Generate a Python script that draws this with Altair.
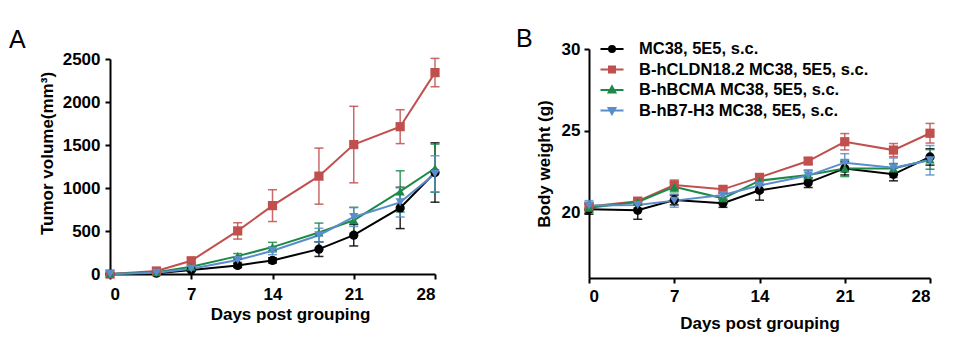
import altair as alt
import pandas as pd

days = [0, 4, 7, 11, 14, 18, 21, 25, 28]
series_names = ["MC38, 5E5, s.c.", "B-hCLDN18.2 MC38, 5E5, s.c.",
                "B-hBCMA MC38, 5E5, s.c.", "B-hB7-H3 MC38, 5E5, s.c."]
colors = ["#000000", "#C0504D", "#1B8A47", "#5B8CCB"]
shapes = ["circle", "square", "triangle-up", "triangle-down"]
legend_paths = [
    "M-1.15,0H1.15M0.3,0A0.3,0.3,0,1,1,-0.3,0A0.3,0.3,0,1,1,0.3,0Z",
    "M-1.15,0H1.15M-0.3,-0.3H0.3V0.3H-0.3Z",
    "M-1.15,0H1.15M0,-0.36L0.34,0.24H-0.34Z",
    "M-1.15,0H1.15M0,0.36L0.34,-0.24H-0.34Z",
]

# Tumor volume (mm3), mean and SEM
tumor_mean = [
    [0, 10, 46, 100, 158, 289, 451, 768, 1180],
    [0, 35, 154, 501, 795, 1138, 1505, 1713, 2342],
    [0, 20, 85, 208, 313, 482, 625, 960, 1230],
    [0, 15, 61, 162, 270, 451, 663, 833, 1165],
]
tumor_err = [
    [0, 5, 15, 25, 30, 85, 125, 240, 345],
    [0, 10, 25, 95, 185, 326, 445, 197, 165],
    [0, 5, 15, 30, 55, 110, 150, 240, 280],
    [0, 5, 15, 25, 45, 80, 110, 170, 210],
]
# Body weight (g), mean and SEM
weight_mean = [
    [20.2, 20.14, 20.77, 20.57, 21.36, 21.83, 22.70, 22.34, 23.4],
    [20.37, 20.7, 21.69, 21.42, 22.15, 23.15, 24.33, 23.82, 24.85],
    [20.3, 20.65, 21.57, 20.87, 21.95, 22.3, 22.7, 22.7, 23.25],
    [20.43, 20.47, 20.73, 21.08, 21.65, 22.26, 23.05, 22.74, 23.2],
]
weight_err = [
    [0.3, 0.55, 0.3, 0.25, 0.6, 0.3, 0.4, 0.4, 0.5],
    [0.2, 0.2, 0.3, 0.2, 0.2, 0.2, 0.5, 0.4, 0.6],
    [0.3, 0.2, 0.3, 0.3, 0.3, 0.3, 0.5, 0.3, 0.6],
    [0.3, 0.2, 0.4, 0.3, 0.4, 0.3, 0.55, 0.6, 0.9],
]


def make_df(means, errs):
    rows = []
    for name, m, e in zip(series_names, means, errs):
        for d, mv, ev in zip(days, m, e):
            rows.append({"day": d, "series": name, "mean": mv,
                         "lo": mv - ev, "hi": mv + ev})
    return pd.DataFrame(rows)


FONT = "Liberation Sans"


def panel(df, ydomain, yrange, yvalues, ytitle, width, height, letter,
          letter_x, letter_y, xaxis_extra, yaxis_extra, with_legend):
    xscale = alt.Scale(domain=[0, 28], nice=False, zero=False)
    yscale_kw = dict(domain=ydomain, nice=False, zero=False)
    if yrange is not None:
        yscale_kw["range"] = yrange
    yscale = alt.Scale(**yscale_kw)
    xaxis = alt.Axis(values=[0, 7, 14, 21, 28], title="Days post grouping",
                     format="d", **xaxis_extra)
    yaxis = alt.Axis(values=yvalues, title=ytitle, format="d", **yaxis_extra)
    X = lambda: alt.X("day:Q", scale=xscale, axis=xaxis, title="Days post grouping")
    Y = lambda f: alt.Y(f + ":Q", scale=yscale, axis=yaxis, title=ytitle)
    color = alt.Color("series:N",
                      scale=alt.Scale(domain=series_names, range=colors),
                      legend=None)
    base = alt.Chart(df)
    rules = base.mark_rule(strokeWidth=1.5, opacity=0.85).encode(
        x=X(), y=Y("lo"), y2="hi:Q", color=color)
    cap_hi = base.mark_tick(size=9, thickness=1.5, orient="horizontal",
                            opacity=0.85).encode(x=X(), y=Y("hi"), color=color)
    cap_lo = base.mark_tick(size=9, thickness=1.5, orient="horizontal",
                            opacity=0.85).encode(x=X(), y=Y("lo"), color=color)
    lines = base.mark_line(strokeWidth=2).encode(x=X(), y=Y("mean"), color=color)
    points = base.mark_point(filled=True, opacity=1, size=85).encode(
        x=X(), y=Y("mean"), color=color,
        shape=alt.Shape("series:N",
                        scale=alt.Scale(domain=series_names, range=shapes),
                        legend=None))
    letter_df = pd.DataFrame({"label": [letter]})
    letter_layer = alt.Chart(letter_df).mark_text(
        font=FONT, fontSize=25, fontWeight="normal", align="left",
        baseline="alphabetic", color="black").encode(
        x=alt.value(letter_x), y=alt.value(letter_y), text="label:N")
    layers = [rules, cap_hi, cap_lo, lines, points]
    if with_legend:
        leg = dict(orient="none", legendX=12, legendY=-11, title=None,
                   labelFont=FONT, labelFontSize=16.5, labelFontWeight="bold",
                   labelColor="black", labelLimit=0, symbolSize=400,
                   symbolStrokeWidth=2, labelOffset=16, rowPadding=0.5,
                   padding=0)
        legend_layer = base.transform_filter("false").mark_point(
            filled=True, opacity=1, strokeWidth=2).encode(
            x=X(), y=Y("mean"),
            fill=alt.Fill("series:N", scale=alt.Scale(domain=series_names, range=colors),
                          legend=alt.Legend(**leg)),
            stroke=alt.Stroke("series:N", scale=alt.Scale(domain=series_names, range=colors),
                              legend=alt.Legend(**leg)),
            shape=alt.Shape("series:N", scale=alt.Scale(domain=series_names, range=legend_paths),
                            legend=alt.Legend(**leg)))
        layers.append(legend_layer)
    layers.append(letter_layer)
    ch = alt.layer(*layers).properties(width=width, height=height)
    if with_legend:
        ch = ch.resolve_scale(shape="independent", fill="independent",
                              stroke="independent")
    return ch


df_t = make_df(tumor_mean, tumor_err)
df_w = make_df(weight_mean, weight_err)

chartA = panel(df_t, [0, 2500], [225, 10], [0, 500, 1000, 1500, 2000, 2500],
               "Tumor volume(mm³)", 325, 225, "A", -101, -1,
               dict(labelPadding=7, titleY=32, titleX=180),
               dict(labelPadding=5, titleY=104, titlePadding=6), False)
chartB = panel(df_w, [16, 30], None, [20, 25, 30],
               "Body weight (g)", 341, 229, "B", -73, -2,
               dict(labelPadding=5, titleY=37),
               dict(labelPadding=4, titlePadding=8), True)

chart = alt.hconcat(chartA, chartB, spacing=154, bounds="flush").resolve_scale(
    shape="independent", fill="independent", stroke="independent"
).properties(
    padding={"left": 9, "top": 27, "right": 5, "bottom": 5},
).configure_view(stroke=None).configure_axis(
    grid=False, domainColor="black", domainWidth=2, tickColor="black",
    tickWidth=2, tickSize=5, labelFont=FONT, labelFontSize=17,
    labelFontWeight="bold", labelColor="black", titleFont=FONT,
    titleFontSize=17, titleFontWeight="bold", titleColor="black",
)

chart.save("out.html", embed_options={"renderer": "svg", "actions": False})
